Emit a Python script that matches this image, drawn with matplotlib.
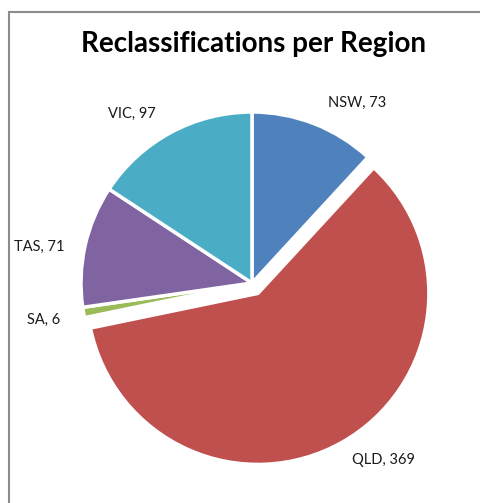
import numpy as np
import matplotlib
matplotlib.use('Agg')
import matplotlib.pyplot as plt
from matplotlib.patches import Rectangle

regions = ['NSW', 'QLD', 'SA', 'TAS', 'VIC']
counts = [73, 369, 6, 71, 97]
colors = ['#4F81BD', '#C0504D', '#9BBB59', '#8064A2', '#4BACC6']
explode = [0, 0.07, 0, 0, 0]

# label placement (distance from centre, angular shift in degrees)
label_dist = [1.22, 1.29, 1.24, 1.26, 1.21]
label_shift = [9, -7, 0, -3, -7]

plt.rcParams['font.family'] = ['Lato', 'DejaVu Sans']

W, H = 481, 503
cx, cy, R = 252, 283, 171   # pie centre and radius in pixels

fig = plt.figure(figsize=(W / 100, H / 100), dpi=100)
ax = fig.add_axes([0, 0, 1, 1])

wedges, _ = ax.pie(counts, colors=colors, explode=explode, startangle=90,
                   counterclock=False, radius=1,
                   wedgeprops=dict(edgecolor='white', linewidth=2.5))

# data labels
total = float(sum(counts))
start = 0.0
for i, (name, val) in enumerate(zip(regions, counts)):
    mid = start + val / total * 360 / 2 + label_shift[i]
    start += val / total * 360
    a = np.deg2rad(mid)
    x = label_dist[i] * np.sin(a)
    y = label_dist[i] * np.cos(a)
    ax.text(x, y, f'{name}, {val}', ha='center', va='center',
            fontsize=10.5, color='#1a1a1a')

ax.set_xlim(-cx / R, (W - cx) / R)
ax.set_ylim((cy - H) / R, cy / R)
ax.set_aspect('auto')
ax.axis('off')

# chart frame (cut off at right and bottom)
fig.patches.append(Rectangle((9 / W, -0.1), 1.2, (H - 12) / H + 0.1,
                             transform=fig.transFigure, fill=False,
                             edgecolor='#8c8c8c', linewidth=1.5))

fig.text(cx / W + 0.003, 1 - 44 / H, 'Reclassifications per Region',
         ha='center', va='center', fontsize=20, fontweight='bold')

fig.savefig('out.png', dpi=100)
